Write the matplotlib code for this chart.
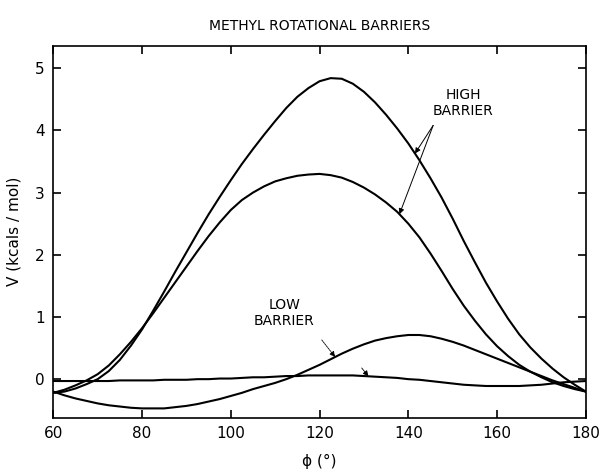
import matplotlib.pyplot as plt
import numpy as np

# torsion angle (deg) and energies (kcal/mol)
phi = [60, 62.5, 65, 67.5, 70, 72.5, 75, 77.5, 80, 82.5, 85, 87.5, 90, 92.5,
       95, 97.5, 100, 102.5, 105, 107.5, 110, 112.5, 115, 117.5, 120, 122.5,
       125, 127.5, 130, 132.5, 135, 137.5, 140, 142.5, 145, 147.5, 150, 152.5,
       155, 157.5, 160, 162.5, 165, 167.5, 170, 172.5, 175, 177.5, 180]

v_high1 = [-0.22, -0.2, -0.15, -0.08, 0.0, 0.13, 0.31, 0.54, 0.8, 1.1, 1.41,
           1.73, 2.04, 2.35, 2.65, 2.93, 3.2, 3.46, 3.7, 3.93, 4.15, 4.36,
           4.54, 4.68, 4.79, 4.84, 4.83, 4.75, 4.62, 4.45, 4.25, 4.03, 3.79,
           3.52, 3.23, 2.92, 2.58, 2.22, 1.88, 1.55, 1.25, 0.97, 0.72, 0.51,
           0.33, 0.17, 0.03, -0.09, -0.2]

v_high2 = [-0.22, -0.17, -0.1, -0.02, 0.08, 0.22, 0.4, 0.6, 0.82, 1.06, 1.31,
           1.56, 1.81, 2.06, 2.3, 2.52, 2.72, 2.88, 3.0, 3.1, 3.18, 3.23,
           3.27, 3.29, 3.3, 3.28, 3.24, 3.17, 3.08, 2.97, 2.84, 2.69, 2.5,
           2.28, 2.02, 1.74, 1.45, 1.18, 0.94, 0.72, 0.53, 0.37, 0.23, 0.12,
           0.03, -0.05, -0.11, -0.16, -0.2]

v_low1 = [-0.2, -0.26, -0.31, -0.35, -0.39, -0.42, -0.44, -0.46, -0.47,
          -0.47, -0.47, -0.45, -0.43, -0.4, -0.36, -0.32, -0.27, -0.22, -0.16,
          -0.11, -0.06, 0.0, 0.07, 0.15, 0.23, 0.32, 0.41, 0.49, 0.56, 0.62,
          0.66, 0.69, 0.71, 0.71, 0.69, 0.65, 0.6, 0.54, 0.47, 0.4, 0.33, 0.26,
          0.19, 0.12, 0.05, -0.02, -0.08, -0.14, -0.2]

v_low2 = [-0.03, -0.03, -0.03, -0.03, -0.03, -0.03, -0.02, -0.02, -0.02,
          -0.02, -0.01, -0.01, -0.01, 0.0, 0.0, 0.01, 0.01, 0.02, 0.03, 0.03,
          0.04, 0.05, 0.05, 0.06, 0.06, 0.06, 0.06, 0.06, 0.05, 0.04, 0.03,
          0.02, 0.0, -0.01, -0.03, -0.05, -0.07, -0.09, -0.1, -0.11, -0.11,
          -0.11, -0.11, -0.1, -0.09, -0.07, -0.05, -0.04, -0.03]

x_ticks = [60, 80, 100, 120, 140, 160, 180]
y_ticks = [0, 1, 2, 3, 4, 5]


def main():
    fig = plt.figure(figsize=(5.99, 4.72), dpi=100)
    ax = fig.add_axes([0.089, 0.115, 0.889, 0.788])

    for v in [v_high1, v_high2, v_low1, v_low2]:
        ax.plot(phi, v, color="black", lw=1.5)

    ax.set_xlim(60, 180)
    ax.set_ylim(-0.62, 5.36)
    ax.set_xticks(x_ticks)
    ax.set_yticks(y_ticks)
    ax.tick_params(direction="in", length=6, width=1.2, top=True, right=True,
                   labelsize=11, pad=6)
    for s in ax.spines.values():
        s.set_linewidth(1.2)

    ax.set_xlabel("ϕ (°)", fontsize=11, labelpad=9)
    ax.set_ylabel("V (kcals / mol)", fontsize=11, labelpad=10)
    fig.text(0.533, 0.945, "METHYL ROTATIONAL BARRIERS", ha="center",
             va="center", fontsize=10)

    # labels with arrows pointing at the curves
    ax.text(152.4, 4.44, "HIGH\nBARRIER", ha="center", va="center",
            fontsize=10, linespacing=1.2)
    arrow = dict(arrowstyle="-|>", color="black", lw=0.7, mutation_scale=8,
                 shrinkA=0, shrinkB=0)
    for hx, v in [(141.5, v_high1), (138.0, v_high2)]:
        ax.annotate("", xy=(hx, np.interp(hx, phi, v)), xytext=(145.6, 4.08),
                    arrowprops=arrow)

    ax.text(112.0, 1.06, "LOW\nBARRIER", ha="center", va="center",
            fontsize=10, linespacing=1.2)
    ax.annotate("", xy=(123.5, np.interp(123.5, phi, v_low1)),
                xytext=(120.5, 0.63),
                arrowprops=dict(arrow, lw=0.6, ls=(0, (2, 1))))
    ax.annotate("", xy=(131.0, np.interp(131.0, phi, v_low2)),
                xytext=(129.5, 0.18), arrowprops=dict(arrow, lw=0.6))

    fig.savefig("out.png", dpi=100)
    plt.close(fig)


if __name__ == "__main__":
    main()
